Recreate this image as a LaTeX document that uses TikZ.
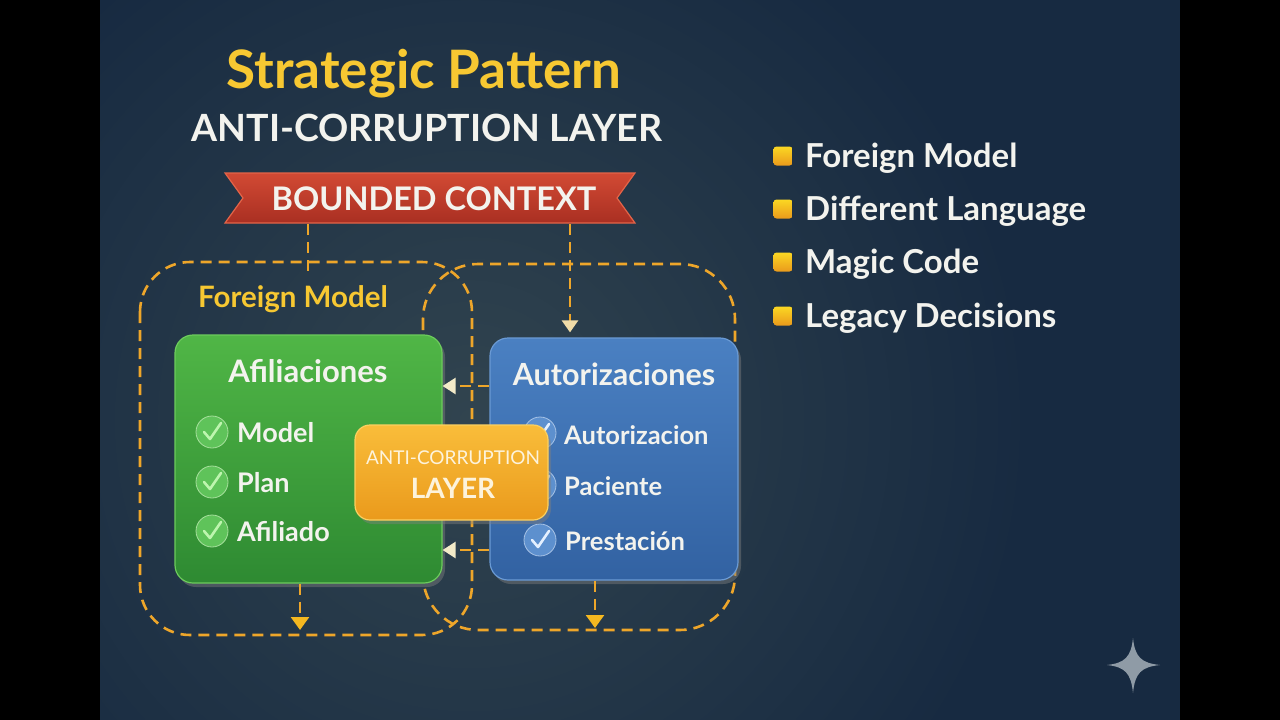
\documentclass[tikz,border=0pt]{standalone}
\usepackage{fontspec}
\setmainfont{Lato}
\usetikzlibrary{arrows.meta,shadows,calc}
\definecolor{bgA}{HTML}{172A41}
\definecolor{bgB}{HTML}{31444F}
\definecolor{titley}{HTML}{F7C832}
\definecolor{wtxt}{HTML}{F3F3EE}
\definecolor{dashc}{HTML}{EEA62A}
\definecolor{gtop}{HTML}{50B646}
\definecolor{gbot}{HTML}{2E8A32}
\definecolor{gbrd}{HTML}{6CCB5C}
\definecolor{btop}{HTML}{4A80C2}
\definecolor{bbot}{HTML}{3262A2}
\definecolor{bbrd}{HTML}{6A9AD4}
\definecolor{otop}{HTML}{F9BD3A}
\definecolor{obot}{HTML}{EA9A1C}
\definecolor{obrd}{HTML}{FBD060}
\definecolor{rtop}{HTML}{D24A34}
\definecolor{rbot}{HTML}{A92F22}
\definecolor{rbrd}{HTML}{E46448}
\definecolor{starc}{HTML}{8F9BA6}
\definecolor{cream}{HTML}{F2EAC8}
\definecolor{tipy}{HTML}{F5B820}
\definecolor{chkgc}{HTML}{5FC35A}
\definecolor{chkgl}{HTML}{BDF5AE}
\definecolor{chkbc}{HTML}{5D90CE}
\definecolor{chkbl}{HTML}{E4F0FF}
\definecolor{acltxt}{HTML}{FDF3DC}
\tikzset{
  dline/.style={draw=dashc, line width=2.6pt, dash pattern=on 11pt off 7pt},
  boxbase/.style={rectangle, rounded corners=18pt, line width=1.2pt,
    drop shadow={opacity=0.45, shadow xshift=3pt, shadow yshift=-4pt}},
  gbox/.style={boxbase, draw=gbrd, top color=gtop, bottom color=gbot},
  bbox/.style={boxbase, draw=bbrd, top color=btop, bottom color=bbot},
  obox/.style={boxbase, rounded corners=15pt, draw=obrd, top color=otop, bottom color=obot},
  boxtitle/.style={text=wtxt, font=\bfseries\fontsize{31}{33}\selectfont, anchor=base, inner sep=0pt},
  gitem/.style={text=wtxt, font=\bfseries\fontsize{27}{29}\selectfont, anchor=base west, inner sep=0pt},
  bitem/.style={text=wtxt, font=\bfseries\fontsize{25.5}{27}\selectfont, anchor=base west, inner sep=0pt},
  listtxt/.style={text=wtxt, font=\bfseries\fontsize{33}{35}\selectfont, anchor=base west, inner sep=0pt},
  sqbullet/.style={rectangle, rounded corners=3pt, minimum size=19pt, inner sep=0pt,
    top color=otop!60!yellow, bottom color=obot},
  chkg/.style={circle, minimum size=32pt, inner sep=0pt, fill=chkgc, draw=gbrd!60!white, line width=0.8pt},
  chkb/.style={circle, minimum size=32pt, inner sep=0pt, fill=chkbc, draw=bbrd!60!white, line width=0.8pt},
  tipcream/.style={-{Triangle[width=16pt, length=13pt, color=cream]}},
  tipyel/.style={-{Triangle[width=18pt, length=13pt, color=tipy]}},
}
\newcommand{\tick}[2]{%
  \draw[#2, line width=2.6pt, line cap=round, line join=round]
    ($(#1)+(-8,0)$) -- ($(#1)+(-2,7)$) -- ($(#1)+(9,-9)$);}
\begin{document}
\begin{tikzpicture}[x=1pt,y=-1pt]
\useasboundingbox (0,0) rectangle (1280,720);
\fill[black] (0,0) rectangle (1280,720);
\begin{scope}
  \clip (100,0) rectangle (1180,720);
  \fill[bgA] (100,0) rectangle (1180,720);
  \shade[inner color=bgB, outer color=bgA] (470,420) circle[radius=560pt];
\end{scope}

% titles
\node[text=titley, font=\bfseries\fontsize{53}{55}\selectfont, anchor=base, inner sep=0pt] (title) at (424,88) {Strategic Pattern};
\node[text=wtxt, font=\bfseries\fontsize{37.5}{40}\selectfont, anchor=base, inner sep=0pt] (subtitle) at (427,141) {ANTI-CORRUPTION LAYER};

% banner
\shade[top color=rtop, bottom color=rbot, draw=rbrd, line width=1.2pt]
  (225,173) -- (635,173) -- (617,198) -- (635,223) -- (225,223) -- (243,198) -- cycle;
\node[text=wtxt, font=\bfseries\fontsize{32.5}{35}\selectfont, anchor=base, inner sep=0pt] (banner) at (434,210) {BOUNDED CONTEXT};

% bounded context dashed regions
\draw[dline, rounded corners=50pt] (140,262) rectangle (472,635);
\draw[dline, rounded corners=55pt] (423,264) rectangle (735,630);

\node[text=titley, font=\bfseries\fontsize{29.5}{31}\selectfont, anchor=base, inner sep=0pt] (foreign) at (293,307) {Foreign Model};

% connectors from banner
\coordinate (bL) at (308,224);
\coordinate (bLe) at (308,272);
\coordinate (bR) at (570,224);
\draw[dline] (bL) -- (bLe);

% boxes
\node[gbox, minimum width=267pt, minimum height=248pt] (afil) at (308.5,459) {};
\node[bbox, minimum width=248pt, minimum height=242pt] (autor) at (614,459) {};

\draw[dline, -{Triangle[width=16pt, length=12pt, color=cream!80!dashc]}, shorten >=5pt] (bR) -- (autor.north -| bR);

\node[boxtitle] (afilT) at (308,382) {Afiliaciones};
\node[boxtitle, font=\bfseries\fontsize{30.5}{33}\selectfont] (autorT) at (614,385) {Autorizaciones};

% green items
\node[chkg] (g1) at (212,432) {};
\node[chkg] (g2) at (212,482) {};
\node[chkg] (g3) at (212,531) {};
\tick{g1}{chkgl}\tick{g2}{chkgl}\tick{g3}{chkgl}
\node[gitem] (gt1) at (237,442) {Model};
\node[gitem] (gt2) at (237,492) {Plan};
\node[gitem] (gt3) at (237,541) {Afiliado};

% blue items
\node[chkb] (c1) at (540,433) {};
\node[chkb] (c2) at (540,485) {};
\node[chkb] (c3) at (540,540) {};
\tick{c1}{chkbl}\tick{c2}{chkbl}\tick{c3}{chkbl}
\node[bitem] (bt1) at (564,444) {Autorizacion};
\node[bitem] (bt2) at (564,495) {Paciente};
\node[bitem] (bt3) at (565,550) {Prestación};

% anti-corruption layer
\node[obox, minimum width=193pt, minimum height=95pt] (acl) at (451.5,472.5) {};
\node[text=acltxt, font=\fontsize{19}{21}\selectfont, anchor=base, inner sep=0pt] (aclA) at (453,464) {ANTI-CORRUPTION};
\node[text=acltxt, font=\bfseries\fontsize{28}{30}\selectfont, anchor=base, inner sep=0pt] (aclB) at (453,498) {LAYER};

% horizontal translations
\coordinate (h1) at (0,386);
\coordinate (h2) at (0,550);
\draw[dline, tipcream] (autor.west |- h1) -- (afil.east |- h1);
\draw[dline, tipcream] (autor.west |- h2) -- (afil.east |- h2);

% downward arrows
\coordinate (d1) at (300,630);
\coordinate (d2) at (595,628);
\draw[dline, tipyel] (afil.south -| d1) -- (d1);
\draw[dline, tipyel] (autor.south -| d2) -- (d2);

% right list
\node[sqbullet] (s1) at (783,156) {};
\node[sqbullet] (s2) at (783,209) {};
\node[sqbullet] (s3) at (783,262) {};
\node[sqbullet] (s4) at (783,316) {};
\node[listtxt] (l1) at (805,167) {Foreign Model};
\node[listtxt] (l2) at (805,220) {Different Language};
\node[listtxt] (l3) at (805,273) {Magic Code};
\node[listtxt] (l4) at (805,327) {Legacy Decisions};

% star
\fill[starc] (1133,638) .. controls (1135,657) and (1141,663) .. (1160,665)
  .. controls (1141,667) and (1135,673) .. (1133,693)
  .. controls (1131,673) and (1125,667) .. (1107,665)
  .. controls (1125,663) and (1131,657) .. (1133,638) -- cycle;
\end{tikzpicture}
\end{document}
